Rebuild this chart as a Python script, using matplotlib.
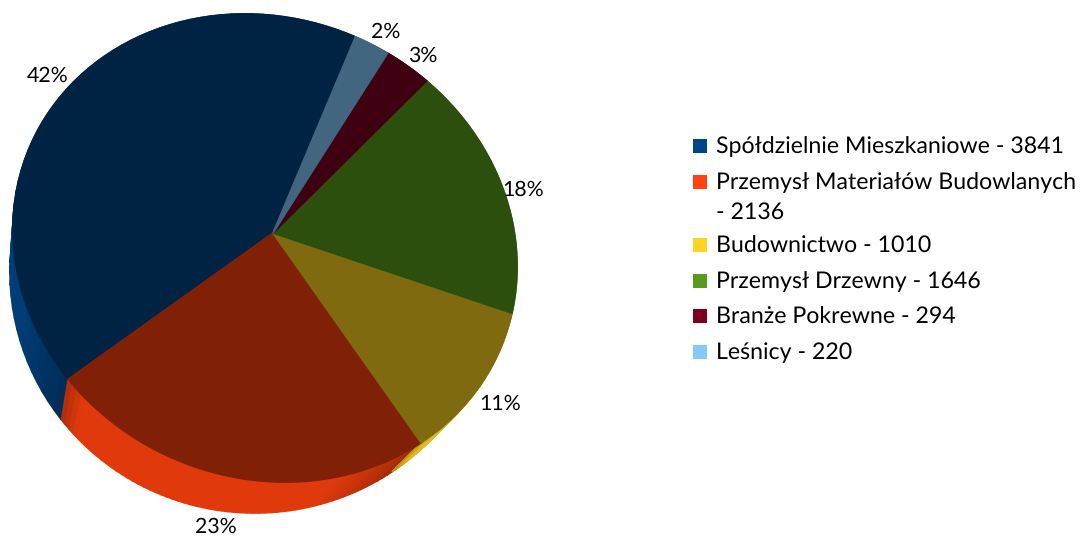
import textwrap
import numpy as np
import matplotlib
matplotlib.use("Agg")
import matplotlib.pyplot as plt
from matplotlib.patches import Rectangle

names = ["Spółdzielnie Mieszkaniowe", "Przemysł Materiałów Budowlanych", "Budownictwo",
         "Przemysł Drzewny", "Branże Pokrewne", "Leśnicy"]
values = [3841, 2136, 1010, 1646, 294, 220]
colors = ["#004586", "#ff420e", "#ffd320", "#579d1c", "#7e0021", "#83caff"]

plt.rcParams["font.family"] = ["Lato", "DejaVu Sans"]
plt.rcParams["text.hinting"] = "no_hinting"

# pie geometry in pixels: tilted top ellipse, lower rim ellipse, apex off centre
cx, cy, hx, hy, rho = 265, 248, 252, 234, 0.08
bx, by, brx, bry = 255, 272, 245, 241
apex = (273, 233)
start = 69.3
label_pos = [(48, 75), (216, 526), (500, 403), (523, 189), (423, 55), (386, 31)]


def rim_angle(theta):
    # perspective: front slices look bigger than back ones
    u = (apex[0] - cx) / hx
    v = (apex[1] - cy) / hy
    s = (v - rho * u) / np.sqrt(1 - rho ** 2)
    a = (u - 1j * s) / 2
    z = np.exp(1j * np.radians(theta))
    return np.angle((z + a) / (1 + np.conj(a) * z))


def top_xy(t):
    # t counts upward from the right
    return cx + hx * np.cos(t), cy + hy * (rho * np.cos(t) - np.sqrt(1 - rho ** 2) * np.sin(t))


def low_xy(t):
    # the lower rim slides a bit to the left on the right hand side
    t2 = t - np.radians(2.75 + 2.43 * np.cos(t))
    return bx + brx * np.cos(t2), by - bry * np.sin(t2)


def shade(color, f):
    return tuple(c * f for c in matplotlib.colors.to_rgb(color))


fig = plt.figure(figsize=(10.88, 5.37), dpi=100)
ax = fig.add_axes([0, 0, 1, 1])
ax.set_xlim(0, 1088)
ax.set_ylim(537, 0)
ax.axis("off")

total = sum(values)
edges = start + np.concatenate([[0], np.cumsum(values)]) / total * 360

# side walls first, in thin strips so the ends can get darker
for i, col in enumerate(colors):
    th = np.linspace(edges[i], edges[i + 1], 60)
    t = np.unwrap(rim_angle(th))
    for k in range(len(t) - 1):
        x1, y1 = top_xy(t[k:k + 2])
        x2, y2 = low_xy(t[k:k + 2])
        d_end = np.degrees(t[-1] - t[k])
        d_start = np.degrees(t[k] - t[0])
        f = 0.88 * min(1, 0.8 + d_start / 5 * 0.2) * min(1, 0.72 + d_end / 22 * 0.28)
        c = shade(col, f)
        ax.fill([x1[0], x1[1], x2[1], x2[0]], [y1[0], y1[1], y2[1], y2[0]],
                color=c, lw=1.2, zorder=2)

# top faces, half as bright as the legend colours
for i, col in enumerate(colors):
    th = np.linspace(edges[i], edges[i + 1], 150)
    x, y = top_xy(np.unwrap(rim_angle(th)))
    ax.fill(np.r_[apex[0], x], np.r_[apex[1], y], color=shade(col, 0.5), lw=1.3, zorder=3)

for v, (lx, ly) in zip(values, label_pos):
    ax.text(lx, ly + 1, f"{v / total * 100:.0f}%", fontsize=15.3, ha="center", va="center",
            color="#000000", zorder=4)

# legend
row_y = 146
for name, v, col in zip(names, values, colors):
    lines = textwrap.wrap(f"{name} - {v}", 32)
    ax.add_patch(Rectangle((693, row_y - 7), 14, 14, facecolor=col, edgecolor="none"))
    for j, line in enumerate(lines):
        ax.text(716, row_y + 1 + j * 29.5, line, fontsize=16.7, va="center", ha="left",
                color="#000000")
    row_y += 35.5 + (len(lines) - 1) * 28

fig.savefig("out.png", dpi=100)
